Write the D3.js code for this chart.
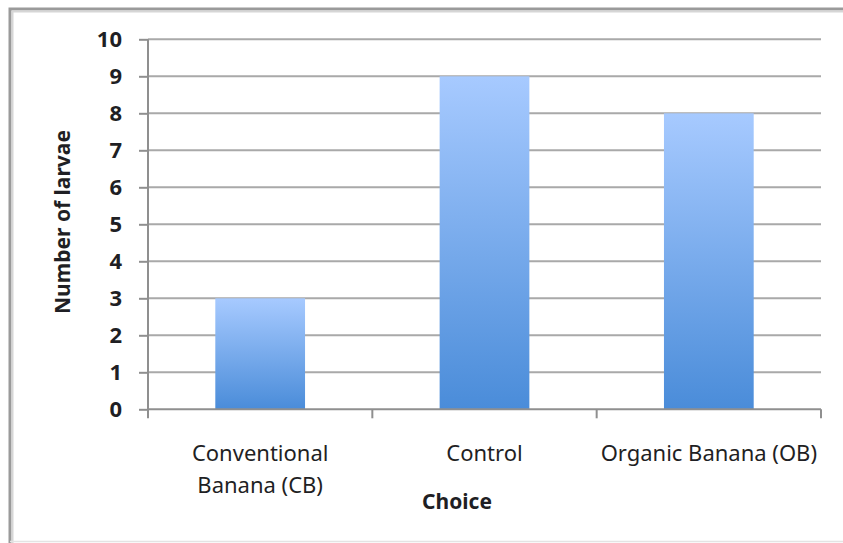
<!DOCTYPE html>
<html>
<head>
<meta charset="utf-8">
<script src="https://cdn.jsdelivr.net/npm/d3@7"></script>
<style>
  html, body { margin: 0; padding: 0; background: #fff; }
  svg { display: block; }
  text { font-family: "Noto Sans", "Open Sans", sans-serif; fill: #1f1f24; }
</style>
</head>
<body>
<script>
// Larvae counts per food choice
const categories = ["Conventional Banana (CB)", "Control", "Organic Banana (OB)"];
const categoryLines = [["Conventional", "Banana (CB)"], ["Control"], ["Organic Banana (OB)"]];
const larvae = [3, 9, 8];
const yTicks = [0, 1, 2, 3, 4, 5, 6, 7, 8, 9, 10];
const yTitle = "Number of larvae";
const xTitle = "Choice";

const W = 843, H = 543;
const plot = { left: 148, right: 821, top: 39.3, bottom: 409.3 };

const svg = d3.select("body").append("svg")
  .attr("width", W).attr("height", H);

// bar fill: light blue at top fading to deeper blue at the base
const defs = svg.append("defs");
const grad = defs.append("linearGradient")
  .attr("id", "barFill").attr("x1", 0).attr("y1", 0).attr("x2", 0).attr("y2", 1);
grad.append("stop").attr("offset", "0%").attr("stop-color", "#a7caff");
grad.append("stop").attr("offset", "100%").attr("stop-color", "#4a8cd9");

// chart frame: darker top/left edges with a soft inner shade, faint bottom edge
const frame = svg.append("g").attr("fill", "none");
frame.append("path")
  .attr("d", `M10,${H}V9H${W}`)
  .attr("stroke", "#9a9a9a").attr("stroke-width", 3);
frame.append("path")
  .attr("d", `M12.5,${H}V11.5H${W}`)
  .attr("stroke", "#d6d6d6").attr("stroke-width", 2);
frame.append("line")
  .attr("x1", 10).attr("x2", W).attr("y1", 541.5).attr("y2", 541.5)
  .attr("stroke", "#e4e4e4").attr("stroke-width", 1.5);

const x = d3.scaleBand()
  .domain(categories)
  .range([plot.left, plot.right])
  .paddingInner(0.6)
  .paddingOuter(0.3);

const y = d3.scaleLinear()
  .domain([0, 10])
  .range([plot.bottom, plot.top]);

// horizontal gridlines
svg.append("g")
  .selectAll("line")
  .data(yTicks.filter(d => d > 0))
  .join("line")
  .attr("x1", plot.left).attr("x2", plot.right)
  .attr("y1", d => y(d)).attr("y2", d => y(d))
  .attr("stroke", "#a9a9a9").attr("stroke-width", 2);

// bars
svg.append("g")
  .selectAll("rect")
  .data(categories)
  .join("rect")
  .attr("x", d => x(d))
  .attr("width", x.bandwidth())
  .attr("y", (d, i) => y(larvae[i]))
  .attr("height", (d, i) => y(0) - y(larvae[i]))
  .attr("fill", "url(#barFill)");

// y axis
const yAxis = d3.axisLeft(y)
  .tickValues(yTicks)
  .tickSize(9)
  .tickPadding(17)
  .tickFormat(d3.format("d"));
const gy = svg.append("g")
  .attr("transform", `translate(${plot.left},0)`)
  .call(yAxis);
gy.select(".domain").attr("stroke", "#8f8f8f").attr("stroke-width", 2)
  .attr("d", `M0,${plot.top}V${plot.bottom + 6}`);
gy.selectAll(".tick line").attr("stroke", "#8f8f8f").attr("stroke-width", 2);
gy.selectAll(".tick text")
  .attr("font-size", 22).attr("font-weight", 700)
  .style("font-family", "'Noto Sans', sans-serif")
  .attr("fill", "#1f1f24");

// x axis: ticks sit on the band boundaries
const xAxis = svg.append("g");
xAxis.append("line")
  .attr("x1", plot.left).attr("x2", plot.right)
  .attr("y1", plot.bottom).attr("y2", plot.bottom)
  .attr("stroke", "#8f8f8f").attr("stroke-width", 2);
const boundaries = categories.map(c => x(c) - x.step() * x.paddingOuter())
  .concat([plot.right]);
xAxis.selectAll("line.tick")
  .data(boundaries)
  .join("line")
  .attr("class", "tick")
  .attr("x1", d => d).attr("x2", d => d)
  .attr("y1", plot.bottom).attr("y2", plot.bottom + 9)
  .attr("stroke", "#8f8f8f").attr("stroke-width", 2);

// category labels
const labels = xAxis.selectAll("text.cat")
  .data(categories)
  .join("text")
  .attr("class", "cat")
  .attr("text-anchor", "middle")
  .attr("font-size", 22)
  .attr("y", 461);
labels.each(function(d, i) {
  const t = d3.select(this);
  categoryLines[i].forEach((line, k) => {
    t.append("tspan")
      .attr("x", x(d) + x.bandwidth() / 2)
      .attr("dy", k === 0 ? 0 : 32)
      .text(line);
  });
});

// axis titles
svg.append("text")
  .attr("x", 457).attr("y", 509)
  .attr("text-anchor", "middle")
  .attr("font-size", 21).attr("font-weight", 700)
  .text(xTitle);

svg.append("text")
  .attr("transform", "translate(70,222) rotate(-90)")
  .attr("text-anchor", "middle")
  .attr("font-size", 21).attr("font-weight", 700)
  .text(yTitle);
</script>
</body>
</html>
